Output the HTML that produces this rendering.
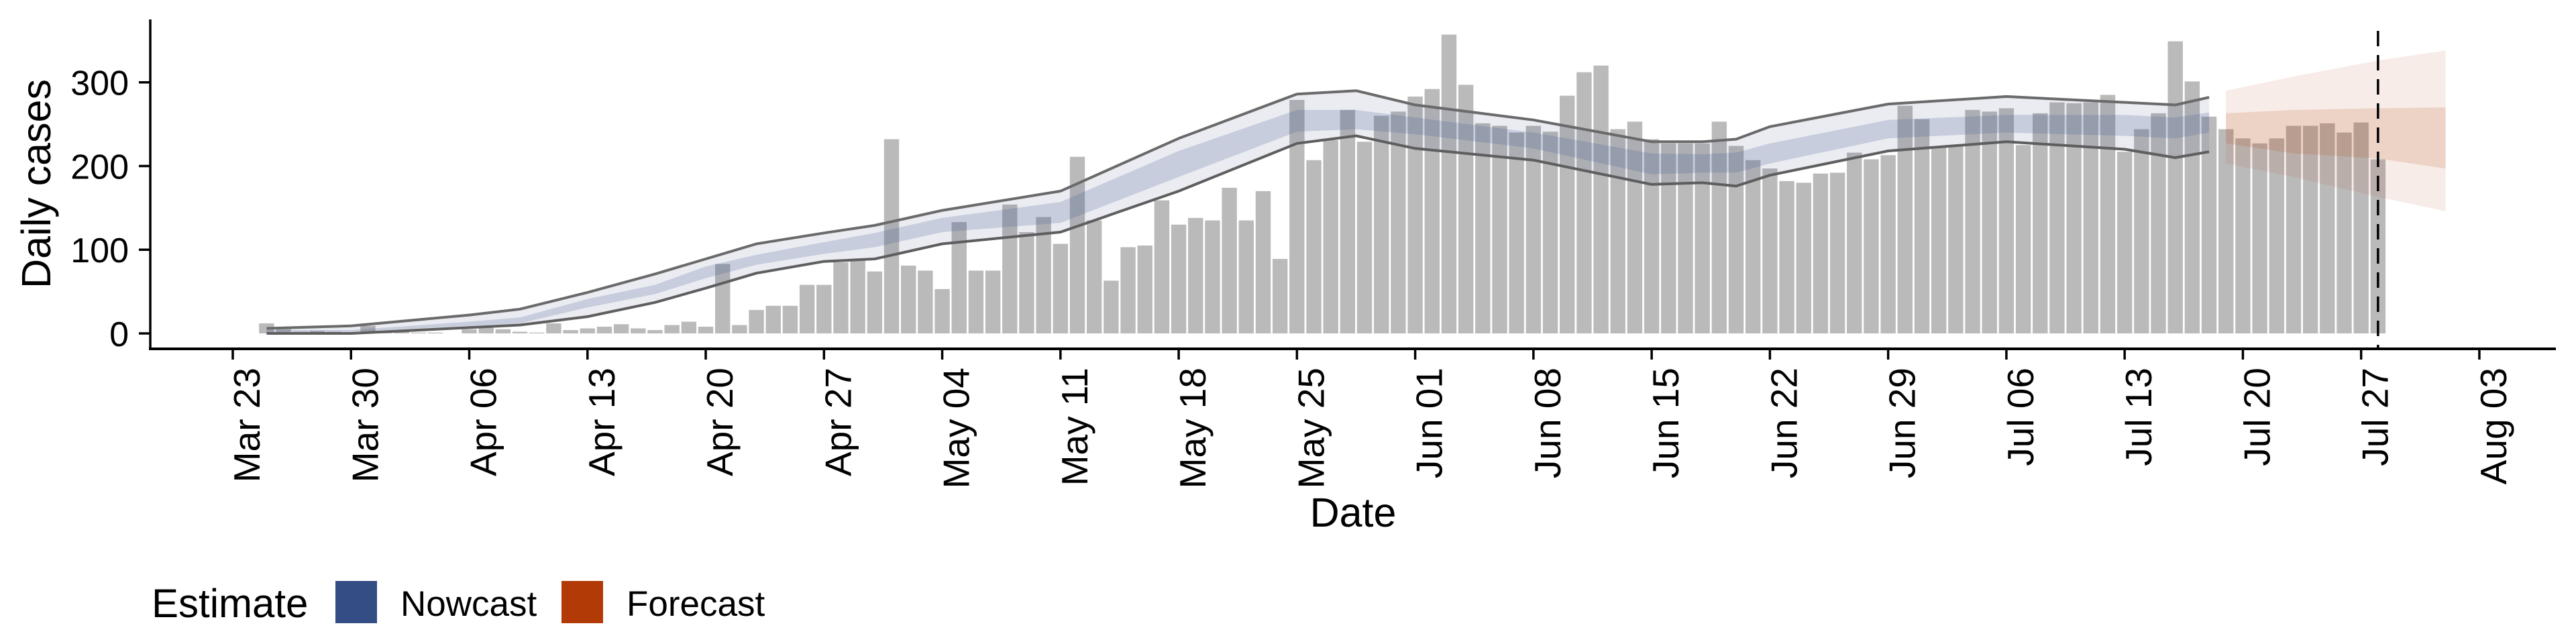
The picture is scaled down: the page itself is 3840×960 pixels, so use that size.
<!DOCTYPE html>
<html><head><meta charset="utf-8"><style>
html,body{margin:0;padding:0;background:#fff}
svg{display:block;font-family:"Liberation Sans",Arial,sans-serif}
</style></head><body>
<svg id="chart" width="3840" height="960" viewBox="0 0 3840 960" xmlns="http://www.w3.org/2000/svg">
<g id="bars"></g>
<g id="bands"></g>
<g id="axes"></g>
<text x="54" y="274" font-size="61" text-anchor="middle" transform="rotate(-90 54 274)" dominant-baseline="central">Daily cases</text>
<text x="2017" y="785" font-size="61" text-anchor="middle">Date</text>
<g>
<text x="226" y="920" font-size="60">Estimate</text>
<rect x="500" y="866" width="62" height="63" fill="#354d85"/>
<text x="597" y="918" font-size="53">Nowcast</text>
<rect x="837" y="866" width="62" height="63" fill="#b13a06"/>
<text x="934" y="918" font-size="53">Forecast</text>
</g>
</svg>
<script>
// ---- data ----
const casesStart = 2; // days after Mar 23 (Mar 25)
const cases = [12,6,2,3,2,1,9,3,4,1,1,0,5,8,5,2,1,12,4,6,8,11,6,4,10,14,8,83,10,28,33,33,58,58,85,87,74,
232,81,75,53,133,75,75,154,121,139,107,211,135,63,103,105,159,130,138,135,174,135,170,89,279,207,231,267,229,260,265,
283,292,357,297,251,248,240,248,241,284,312,320,244,253,232,227,227,227,253,224,
207,197,182,180,191,192,216,208,213,272,256,222,224,267,265,269,225,263,276,275,276,285,217,244,263,349,301,259,
244,233,227,233,248,248,251,240,252,208];
const nowDays   = [2,7,14,17,21,25,28,31,35,38,42,49,56,63,66.5,70,77,84,87,89,91,98,105,112,115,117];
const nowOuterHi= [6,9,22,29,49,71,89,107,120,129,147,170,233,286,290,273,255,229,229,232,247,274,283,276,273,282];
const nowOuterLo= [0,0,7,10,20,37,54,72,86,89,107,121,170,227,236,221,207,178,180,176,189,218,229,220,210,217];
const nowInnerHi= [4,4,14,19,41,58,80,94,109,120,138,157,218,267,267,258,240,215,214,216,227,255,261,261,258,264];
const nowInnerLo= [2,2,9,12,31,47,66,82,95,103,121,132,187,241,244,238,221,190,192,192,203,233,240,236,233,240];
const foreDays   = [118,122,127,131];
const foreOuterHi= [290,307,326,338];
const foreOuterLo= [203,187,163,146];
const foreInnerHi= [263,267,269,270];
const foreInnerLo= [227,215,209,197];
const yTicks = [0,100,200,300];
const xTickDays = [0,7,14,21,28,35,42,49,56,63,70,77,84,91,98,105,112,119,126,133];
const xTickLabels = ["Mar 23","Mar 30","Apr 06","Apr 13","Apr 20","Apr 27","May 04","May 11","May 18","May 25","Jun 01","Jun 08","Jun 15","Jun 22","Jun 29","Jul 06","Jul 13","Jul 20","Jul 27","Aug 03"];
const forecastDateDay = 127;
// ---- scales ----
const X0=347, DW=25.18, Y0=497, YU=1.2477;
function xs(d){return X0+DW*d;}
function ys(v){return Y0-YU*v;}
const NS="http://www.w3.org/2000/svg";
function mk(tag,attrs,parent){const e=document.createElementNS(NS,tag);for(const k in attrs)e.setAttribute(k,attrs[k]);parent.appendChild(e);return e;}
const barsG=document.getElementById('bars'), bandsG=document.getElementById('bands'), axesG=document.getElementById('axes');
cases.forEach((v,i)=>{
  const d=casesStart+i, bw=22.4;
  const r=mk('rect',{x:xs(d)-bw/2,y:ys(v),width:bw,height:YU*v,fill:'#bababa'},barsG);
  
  
});
function areaPath(days,hi,lo){
  let p='';
  days.forEach((d,i)=>{p+=(i?'L':'M')+xs(d).toFixed(1)+','+ys(hi[i]).toFixed(1);});
  for(let i=days.length-1;i>=0;i--)p+='L'+xs(days[i]).toFixed(1)+','+ys(lo[i]).toFixed(1);
  return p+'Z';
}
function linePath(days,vals){let p='';days.forEach((d,i)=>{p+=(i?'L':'M')+xs(d).toFixed(1)+','+ys(vals[i]).toFixed(1);});return p;}
let e;
e=mk('path',{d:areaPath(nowDays,nowOuterHi,nowOuterLo),fill:'#3c5488','fill-opacity':0.11},bandsG);


e=mk('path',{d:areaPath(nowDays,nowInnerHi,nowInnerLo),fill:'#3c5488','fill-opacity':0.2},bandsG);


e=mk('path',{d:areaPath(foreDays,foreOuterHi,foreOuterLo),fill:'#b2400f','fill-opacity':0.1},bandsG);


e=mk('path',{d:areaPath(foreDays,foreInnerHi,foreInnerLo),fill:'#b2400f','fill-opacity':0.15},bandsG);


e=mk('path',{d:linePath(nowDays,nowOuterHi),fill:'none',stroke:'#6a6a6a','stroke-width':4,'stroke-linejoin':'round'},bandsG);


e=mk('path',{d:linePath(nowDays,nowOuterLo),fill:'none',stroke:'#5e5e5e','stroke-width':4,'stroke-linejoin':'round'},bandsG);


e=mk('line',{x1:xs(forecastDateDay),x2:xs(forecastDateDay),y1:46,y2:520,stroke:'#000','stroke-width':3.5,'stroke-dasharray':'23 13'},bandsG);


e=mk('line',{x1:224,x2:224,y1:29,y2:522,stroke:'#000','stroke-width':3.5},axesG);


e=mk('line',{x1:222,x2:3810,y1:520,y2:520,stroke:'#000','stroke-width':4},axesG);


yTicks.forEach(v=>{
  const t=mk('line',{x1:207,x2:224,y1:ys(v),y2:ys(v),stroke:'#000','stroke-width':3.5},axesG);
  
  
  const l=mk('text',{x:192,y:ys(v)+19,'font-size':52,'text-anchor':'end'},axesG);
  
  
  l.textContent=v;
});
xTickDays.forEach((d,i)=>{
  const x=xs(d);
  const t=mk('line',{x1:x,x2:x,y1:520,y2:536,stroke:'#000','stroke-width':3.5},axesG);
  
  
  const l=mk('text',{x:x+40,y:548,'font-size':55,'text-anchor':'end',transform:'rotate(-90 '+(x+40)+' 548)'},axesG);
  
  
  l.textContent=xTickLabels[i];
});
</script>
</body></html>
